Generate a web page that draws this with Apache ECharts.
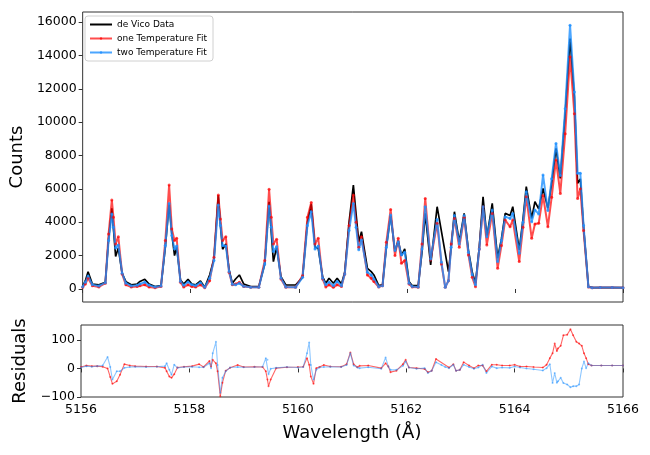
<!DOCTYPE html>
<html>
<head>
<meta charset="utf-8">
<script src="https://cdn.jsdelivr.net/npm/echarts@6/dist/echarts.min.js"></script>
<style>
  html, body { margin: 0; padding: 0; background: #fff; }
  #chart { width: 650px; height: 455px; }
</style>
</head>
<body>
<div id="chart"></div>
<script>
// spectrum (top panel), wavelengths in Angstrom; null = gap in the data
var wavelength = [5156.00, 5156.05, 5156.10, 5156.18, 5156.30, 5156.42, 5156.48, 5156.54, 5156.57, 5156.61,
  5156.66, 5156.73, 5156.80, 5156.90, 5157.01, 5157.06, 5157.15, 5157.23, 5157.34, 5157.45,
  5157.53, 5157.60, 5157.65, 5157.70, 5157.74, 5157.81, 5157.87, 5157.95, 5158.02, 5158.09,
  5158.18, 5158.26, 5158.35, 5158.43, 5158.51, 5158.55, 5158.59, 5158.65, 5158.71, 5158.77,
  5158.83, 5158.90, 5158.98, 5159.11, 5159.26, 5159.37, 5159.45, 5159.49, 5159.53, 5159.59,
  5159.67, 5159.76, 5159.94, 5160.07, 5160.16, 5160.23, 5160.30, 5160.36, 5160.44, 5160.50,
  5160.56, 5160.64, 5160.71, 5160.79, 5160.85, 5160.93, 5161.01, 5161.06, 5161.11, 5161.16,
  5161.27, 5161.34, 5161.39, 5161.48, 5161.55, 5161.62, 5161.70, 5161.78, 5161.84, 5161.90,
  5161.96, 5162.04, 5162.10, 5162.21, 5162.28, 5162.34, 5162.44, 5162.56, 5162.64, 5162.71,
  5162.77, 5162.82, 5162.88, 5162.97, 5163.06, 5163.14, 5163.21, 5163.27, 5163.34, 5163.41,
  5163.48, 5163.58, 5163.68, 5163.75, 5163.82, 5163.91, 5163.96, 5164.08, 5164.15, 5164.21,
  5164.31, 5164.37, 5164.44, 5164.52, 5164.61, 5164.68, 5164.76, 5164.84, 5164.93, 5165.02,
  5165.10, 5165.16, 5165.21, 5165.27, 5165.36, 5165.43, 5165.58, 5165.80, 5166.00]

var deVico = [150, 500, 1030, 300, 250, 400, 3000, 4830, 3600, 1950,
  2450, 940, 440, 250, 300, 450, 580, 300, 150, 200,
  2500, 5100, 3300, 2000, 2500, 540, 300, 580, 300, 250,
  480, 100, 840, 1800, 5630, 3800, 2380, 2700, 1140, 340,
  600, 840, 300, 140, 140, 1500, 5230, 3400, 1640, 2500,
  740, 240, 240, 700, 4000, 5090, 2500, 2440, 740, 340,
  640, 340, 640, 300, 1000, 4000, 6230, 4500, 2830, 3430,
  1240, 1040, 840, 200, 250, 2500, 4430, 2240, 2900, 2000,
  2400, 450, 200, 200, 2200, 4530, 1440, 4930, null, null,
  1040, 2500, 4630, 2830, 4530, 2300, 1000, 340, 2500, 5530,
  3100, 5130, 1840, 3000, 4530, 4400, 4930, 2340, 4200, 6130,
  4230, 5230, 4800, 6030, 4830, 6330, 8430, 6630, 10500, 15010,
  11520, 6330, 6600, 3730, 140, 80, 90, 85, 80]

var oneTempFit = [100, 300, 650, 200, 120, 350, 3300, 5330, 4300, 2700,
  3130, 900, 250, 120, 150, 200, 250, 120, 80, 150,
  2900, 6230, 3600, 2900, 3040, 400, 120, 250, 150, 120,
  250, 80, 500, 1900, 5630, 4200, 2900, 3130, 1000, 250,
  300, 400, 150, 100, 100, 1700, 5970, 4300, 2700, 2980,
  600, 100, 100, 800, 4300, 5190, 2700, 3040, 600, 120,
  250, 100, 250, 150, 900, 3800, 5630, 4000, 2500, 3130,
  840, 640, 450, 120, 200, 2800, 4770, 2000, 3040, 1540,
  1700, 300, 120, 100, 2700, 5430, 1740, 3940, 1500, 100,
  500, 2700, 4230, 2500, 4300, 2040, 700, 140, 2400, 4930,
  2640, 4530, 1240, 2600, 4130, 3730, 4130, 1640, 3700, 5530,
  3040, 3900, 3940, 5600, 3730, 5500, 7730, 5730, 9300, 13920,
  10500, 5430, 6000, 3500, 120, 80, 90, 85, 80]

var twoTempFit = [130, 400, 780, 250, 180, 380, 2900, 4500, 3700, 2450,
  2640, 950, 350, 180, 220, 300, 400, 220, 120, 180,
  2600, 5130, 3200, 2400, 2580, 450, 220, 420, 250, 200,
  380, 100, 650, 1700, 5030, 3800, 2600, 2580, 1050, 280,
  250, 340, 160, 110, 110, 1500, 4970, 3700, 2240, 2540,
  650, 120, 100, 700, 3800, 4630, 2400, 2580, 650, 250,
  400, 200, 450, 200, 900, 3500, 5130, 3700, 2350, 2940,
  1000, 840, 600, 140, 200, 2500, 4430, 2300, 2830, 2040,
  2200, 350, 150, 120, 2400, 4930, 1800, 4170, 1600, 100,
  500, 2500, 4400, 2700, 4400, 2200, 850, 250, 2400, 4930,
  3130, 4730, 1640, 2900, 4330, 4230, 4530, 2140, 4000, 5830,
  4030, 4730, 4500, 6830, 4700, 6600, 8720, 6800, 10800, 15810,
  11800, 6930, 6930, 3800, 130, 80, 90, 85, 80]

// residuals (bottom panel)
var resWavelength = [5156.00, 5156.10, 5156.20, 5156.30, 5156.40, 5156.49, 5156.54, 5156.58, 5156.66, 5156.72,
  5156.80, 5156.90, 5157.00, 5157.20, 5157.40, 5157.55, 5157.58, 5157.63, 5157.67, 5157.72,
  5157.78, 5157.90, 5158.05, 5158.18, 5158.26, 5158.37, 5158.40, 5158.43, 5158.49, 5158.52,
  5158.57, 5158.61, 5158.67, 5158.75, 5158.89, 5159.00, 5159.20, 5159.35, 5159.41, 5159.44,
  5159.46, 5159.50, 5159.60, 5159.80, 5160.00, 5160.10, 5160.17, 5160.21, 5160.24, 5160.29,
  5160.34, 5160.40, 5160.48, 5160.60, 5160.80, 5160.90, 5160.97, 5161.03, 5161.10, 5161.14,
  5161.30, 5161.54, 5161.62, 5161.67, 5161.71, 5161.82, 5161.94, 5161.99, 5162.05, 5162.19,
  5162.34, 5162.40, 5162.47, 5162.55, 5162.65, 5162.72, 5162.79, 5162.87, 5162.92, 5162.99,
  5163.06, 5163.16, 5163.25, 5163.33, 5163.41, 5163.48, 5163.58, 5163.67, 5163.77, 5163.91,
  5164.00, 5164.10, 5164.22, 5164.35, 5164.52, 5164.59, 5164.65, 5164.70, 5164.74, 5164.78,
  5164.80, 5164.85, 5164.90, 5164.97, 5165.03, 5165.08, 5165.14, 5165.19, 5165.24, 5165.28,
  5165.32, 5165.36, 5165.42, 5165.60, 5165.80, 5166.00]

var resOneTemp = [5, 10, 8, 8, 6, 0, -30, -54, -45, -22,
  15, 10, 8, 7, 7, 2, -10, -28, -33, -20,
  3, 6, 8, 15, 5, 26, 7, 30, 18, -10,
  -97, -50, -8, 2, 12, 5, 6, 5, -10, -39,
  -62, -39, 1, 4, 5, 6, 36, 13, -28, -54,
  1, 5, 12, 7, 6, 15, 56, 15, 4, 9,
  10, 1, 18, 7, -13, -8, 15, 30, 3, 1,
  -2, -13, -8, 33, null, null, 3, 15, -8, -5,
  22, 10, 1, 10, 10, -10, 13, 13, 10, 10,
  13, 7, 7, 5, 3, 13, 36, 53, 87, 61,
  70, 79, 116, 118, 137, 116, 93, 87, 79, 53,
  36, 15, 10, 10, 10, 10]

var resTwoTemp = [3, 8, 6, 8, 10, 40, 5, -39, -10, -10,
  2, 5, 6, 5, 6, 8, 18, -5, -22, 13,
  2, 5, 6, 4, 4, 18, 1, 53, 93, 12,
  -85, -33, -10, 3, 5, 4, 5, 6, 36, 30,
  -20, -1, 2, 5, 3, 5, 53, 91, 12, -39,
  -5, 3, 5, 6, 5, 12, 53, 10, 3, 1,
  4, -1, 38, 7, -5, -5, 9, 24, 3, -1,
  1, -16, -8, 22, 12, 5, 1, 13, -8, -5,
  13, 5, -1, 3, 13, -16, 7, 1, 3, 2,
  7, 3, 0, -3, -7, 1, 15, -51, -16, -50,
  -45, -33, -51, -56, -66, -62, -62, -56, 0, 24,
  1, 18, 10, 10, 10, 10]

var countTicks = [0, 2000, 4000, 6000, 8000, 10000, 12000, 14000, 16000]
var residualTicks = [-100, 0, 100]

function pairs (xs, ys) {
  return xs.map(function (x, i) { return [x, ys[i]] })
}

var font = 'DejaVu Sans'
var chart = echarts.init(document.getElementById('chart'))

var tickStyle = { show: true, inside: false, length: 4, lineStyle: { color: '#333', width: 1 } }
// plain numbers, matplotlib-style minus sign
var plain = function (v) { return v < 0 ? '\u2212' + Math.abs(v) : String(v) }

chart.setOption({
  animation: false,
  backgroundColor: '#fff',
  textStyle: { fontFamily: font },
  legend: {
    data: [
      { name: 'de Vico Data', itemStyle: { opacity: 0 } },
      'one Temperature Fit',
      'two Temperature Fit'
    ],
    orient: 'vertical',
    left: 85,
    top: 16,
    itemWidth: 22,
    itemHeight: 3,
    itemGap: 5,
    padding: [4, 6, 4, 4],
    borderColor: '#d0d0d0',
    borderWidth: 1,
    borderRadius: 3,
    backgroundColor: 'rgba(255,255,255,0.8)',
    textStyle: { fontFamily: font, fontSize: 9, color: '#000' }
  },
  grid: [
    { left: 81, right: 27, top: 12, height: 290, show: true, borderColor: '#333', borderWidth: 1, backgroundColor: 'transparent' },
    { left: 81, right: 27, top: 325, height: 72, show: true, borderColor: '#333', borderWidth: 1, backgroundColor: 'transparent' }
  ],
  xAxis: [
    {
      type: 'value', gridIndex: 0, min: 5156, max: 5166, interval: 2,
      axisLine: { show: false }, axisTick: tickStyle,
      axisLabel: { show: false }, splitLine: { show: false }
    },
    {
      type: 'value', gridIndex: 1, min: 5156, max: 5166, interval: 2,
      axisLine: { show: false }, axisTick: tickStyle,
      axisLabel: { formatter: plain, fontFamily: font, fontSize: 12.5, color: '#000', margin: 6 },
      splitLine: { show: false },
      name: 'Wavelength (Å)', nameLocation: 'middle', nameGap: 27,
      nameTextStyle: { fontFamily: font, fontSize: 18, color: '#000' }
    }
  ],
  yAxis: [
    {
      type: 'value', gridIndex: 0, min: -780, max: 16600,
      axisLine: { show: false },
      axisTick: Object.assign({ customValues: countTicks }, tickStyle),
      axisLabel: { customValues: countTicks, formatter: plain, fontFamily: font, fontSize: 12.5, color: '#000', margin: 6 },
      splitLine: { show: false },
      name: 'Counts', nameLocation: 'middle', nameGap: 50,
      nameTextStyle: { fontFamily: font, fontSize: 18, color: '#000' }
    },
    {
      type: 'value', gridIndex: 1, min: -100, max: 152,
      axisLine: { show: false },
      axisTick: Object.assign({ customValues: residualTicks }, tickStyle),
      axisLabel: { customValues: residualTicks, formatter: plain, fontFamily: font, fontSize: 12.5, color: '#000', margin: 6 },
      splitLine: { show: false },
      name: 'Residuals', nameLocation: 'middle', nameGap: 50,
      nameTextStyle: { fontFamily: font, fontSize: 18, color: '#000' }
    }
  ],
  series: [
    {
      name: 'de Vico Data', type: 'line', xAxisIndex: 0, yAxisIndex: 0,
      data: pairs(wavelength, deVico), connectNulls: true,
      showSymbol: false, symbol: 'none',
      lineStyle: { color: '#000', width: 1.7 }, itemStyle: { color: '#000' }
    },
    {
      name: 'one Temperature Fit', type: 'line', xAxisIndex: 0, yAxisIndex: 0,
      data: pairs(wavelength, oneTempFit),
      symbol: 'circle', symbolSize: 3, showAllSymbol: true,
      lineStyle: { color: 'rgba(255,0,0,0.7)', width: 2 },
      itemStyle: { color: 'rgba(255,0,0,0.7)' }
    },
    {
      name: 'two Temperature Fit', type: 'line', xAxisIndex: 0, yAxisIndex: 0,
      data: pairs(wavelength, twoTempFit),
      symbol: 'circle', symbolSize: 3, showAllSymbol: true,
      lineStyle: { color: 'rgba(30,144,255,0.8)', width: 2 },
      itemStyle: { color: 'rgba(30,144,255,0.8)' }
    },
    {
      name: 'resOne', type: 'line', xAxisIndex: 1, yAxisIndex: 1,
      data: pairs(resWavelength, resOneTemp), connectNulls: true,
      symbol: 'circle', symbolSize: 2, showAllSymbol: true,
      lineStyle: { color: 'rgba(255,0,0,0.6)', width: 1.1 },
      itemStyle: { color: 'rgba(255,0,0,0.6)' }
    },
    {
      name: 'resTwo', type: 'line', xAxisIndex: 1, yAxisIndex: 1,
      data: pairs(resWavelength, resTwoTemp),
      symbol: 'circle', symbolSize: 2, showAllSymbol: true,
      lineStyle: { color: 'rgba(30,144,255,0.5)', width: 1.1 },
      itemStyle: { color: 'rgba(30,144,255,0.5)' }
    }
  ]
})
</script>
</body>
</html>
